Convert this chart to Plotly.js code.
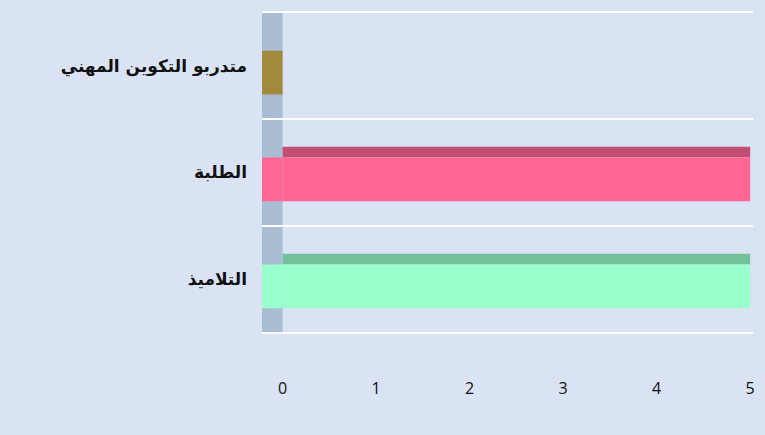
<!DOCTYPE html>
<html>
<head>
<meta charset="utf-8">
<script src="https://cdn.plot.ly/plotly-3.0.1.min.js"></script>
<style>html,body{margin:0;padding:0;background:#dae3f3;}</style>
</head>
<body>
<div id="chart" style="width:765px;height:435px;"></div>
<script>
// Data (categories listed bottom to top)
const categories = ['التلاميذ', 'الطلبة', 'متدربو التكوين المهني'];
const values = [5, 5, 0];
const tickValues = [0, 1, 2, 3, 4, 5];
const tickLabels = ['0', '1', '2', '3', '4', '5'];

// Styles
const frontColors = ['#99ffcc', '#ff6694', '#a38b3d'];
const topColors = ['#73c29c', '#c04f72', '#7f6c30'];
const wallDepth = 0.22;

const front = {
  type: 'bar', orientation: 'h',
  y: categories, x: values,
  width: 0.41, offset: -0.27,
  marker: {color: frontColors, line: {width: 0}},
  hoverinfo: 'x+y', showlegend: false
};
const topFace = {
  type: 'bar', orientation: 'h',
  y: categories, x: values,
  width: 0.1, offset: 0.14,
  marker: {color: topColors, line: {width: 0}},
  hoverinfo: 'skip', showlegend: false
};
// end caps lying on the side wall (visible for zero-length bars)
const caps = {
  type: 'bar', orientation: 'h',
  y: categories, x: categories.map(() => wallDepth), base: -wallDepth,
  width: 0.41, offset: -0.27,
  marker: {color: frontColors, line: {width: 0}},
  hoverinfo: 'skip', showlegend: false
};

const layout = {
  width: 765, height: 435,
  paper_bgcolor: '#dae3f3', plot_bgcolor: '#dae3f3',
  margin: {l: 262, r: 12, t: 10, b: 100},
  barmode: 'overlay',
  xaxis: {
    range: [-wallDepth, 5.03],
    tickvals: tickValues, ticktext: tickLabels,
    showgrid: false, zeroline: false, showline: false,
    ticks: '', ticklabelstandoff: 42,
    tickfont: {family: 'Open Sans, Liberation Sans, sans-serif', size: 16, color: '#111'}
  },
  yaxis: {
    type: 'category',
    range: [-0.52, 2.52],
    tickson: 'boundaries',
    showgrid: true, gridcolor: '#ffffff', gridwidth: 2,
    zeroline: false, showline: false, ticks: '',
    ticklabelstandoff: 14,
    tickfont: {family: 'DejaVu Sans, sans-serif', size: 17, color: '#111', weight: 'bold'}
  },
  shapes: [{
    type: 'rect', layer: 'below',
    xref: 'x', yref: 'paper',
    x0: -wallDepth, x1: 0, y0: 0.005, y1: 0.995,
    fillcolor: '#a9bdd3', line: {width: 0}
  }]
};

Plotly.newPlot('chart', [caps, topFace, front], layout, {displayModeBar: false, staticPlot: true});
</script>
</body>
</html>
